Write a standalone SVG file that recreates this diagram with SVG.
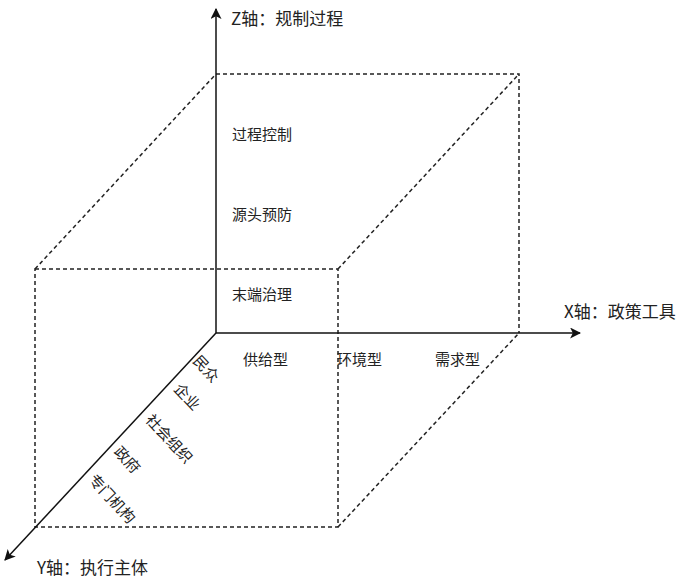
<svg xmlns="http://www.w3.org/2000/svg" width="687" height="579" viewBox="0 0 687 579">
<style>
text{font-family:"Noto Sans CJK SC","Noto Sans",sans-serif;font-size:15px;fill:#222;dominant-baseline:central}
.big{font-size:17px}
.ax{stroke:#111;stroke-width:1.5;fill:none}
.d{stroke:#222;stroke-width:1.5;fill:none;stroke-dasharray:4 3}
</style>
<defs>
<marker id="ah" viewBox="0 0 10 10" refX="9" refY="5" markerWidth="11" markerHeight="11" markerUnits="userSpaceOnUse" orient="auto">
<path d="M0,0 L10,5 L0,10 L2.5,5 z" fill="#111"/>
</marker>
</defs>
<rect width="687" height="579" fill="#fff"/>
<g id="cube">
<path class="d" d="M216,74 H519 V333"/>
<path class="d" d="M35,269 H338 V527 H35 Z"/>
<path class="d" d="M35,269 L216,74 M338,269 L519,74 M338,527 L519,333"/>
</g>
<g id="connectors">
<line class="ax" x1="216" y1="333" x2="216" y2="9" marker-end="url(#ah)"/>
<line class="ax" x1="216" y1="333" x2="580" y2="333" marker-end="url(#ah)"/>
<line class="ax" x1="216" y1="333" x2="5" y2="560" marker-end="url(#ah)"/>
</g>
<g id="z-axis"><text class="big" x="231" y="17">Z轴：规制过程</text></g>
<g id="x-axis"><text class="big" x="564" y="310">X轴：政策工具</text></g>
<g id="y-axis"><text class="big" x="37" y="566">Y轴：执行主体</text></g>
<g id="z-labels">
<text x="232" y="133">过程控制</text>
<text x="232" y="213">源头预防</text>
<text x="232" y="293">末端治理</text>
</g>
<g id="x-labels">
<text x="243" y="358">供给型</text>
<text x="337" y="358">环境型</text>
<text x="435" y="358">需求型</text>
</g>
<g id="y-labels" text-anchor="middle">
<text transform="translate(207,368) rotate(47)">民众</text>
<text transform="translate(188,396) rotate(47)">企业</text>
<text transform="translate(170,438) rotate(47)">社会组织</text>
<text transform="translate(128,459) rotate(47)">政府</text>
<text transform="translate(113,498) rotate(47)">专门机构</text>
</g>
</svg>
